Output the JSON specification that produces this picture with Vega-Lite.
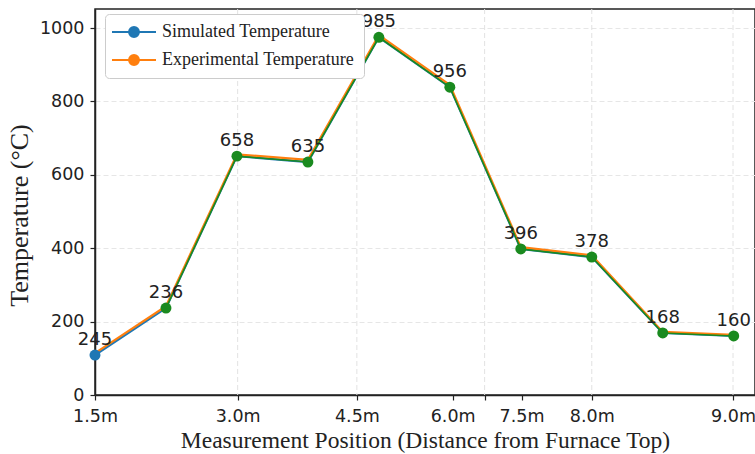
{
  "$schema": "https://vega.github.io/schema/vega-lite/v6.json",
  "width": 660,
  "height": 386,
  "autosize": {"type": "none"},
  "padding": {"left": 95, "top": 9, "right": 0, "bottom": 59},
  "background": "white",
  "config": {
    "view": {"stroke": "#222", "strokeWidth": 1.5},
    "axis": {
      "labelFont": "DejaVu Sans",
      "labelFontSize": 17.5,
      "labelColor": "#222",
      "titleFont": "Liberation Serif",
      "titleFontWeight": "normal",
      "titleColor": "#222",
      "domainColor": "#222",
      "domainWidth": 1.5,
      "tickColor": "#222",
      "tickSize": 5,
      "tickWidth": 1.2
    }
  },
  "datasets": {
    "temps": [
      {"pos": 0, "series": "Simulated Temperature", "temp": 109},
      {"pos": 1, "series": "Simulated Temperature", "temp": 237},
      {"pos": 2, "series": "Simulated Temperature", "temp": 651},
      {"pos": 3, "series": "Simulated Temperature", "temp": 635},
      {"pos": 4, "series": "Simulated Temperature", "temp": 975},
      {"pos": 5, "series": "Simulated Temperature", "temp": 839},
      {"pos": 6, "series": "Simulated Temperature", "temp": 398},
      {"pos": 7, "series": "Simulated Temperature", "temp": 376},
      {"pos": 8, "series": "Simulated Temperature", "temp": 169},
      {"pos": 9, "series": "Simulated Temperature", "temp": 161},
      {"pos": 0, "series": "Experimental Temperature", "temp": 114},
      {"pos": 1, "series": "Experimental Temperature", "temp": 242},
      {"pos": 2, "series": "Experimental Temperature", "temp": 656},
      {"pos": 3, "series": "Experimental Temperature", "temp": 641},
      {"pos": 4, "series": "Experimental Temperature", "temp": 981},
      {"pos": 5, "series": "Experimental Temperature", "temp": 845},
      {"pos": 6, "series": "Experimental Temperature", "temp": 403},
      {"pos": 7, "series": "Experimental Temperature", "temp": 381},
      {"pos": 8, "series": "Experimental Temperature", "temp": 172},
      {"pos": 9, "series": "Experimental Temperature", "temp": 164}
    ],
    "markers": [
      {"pos": 1, "temp": 237},
      {"pos": 2, "temp": 651},
      {"pos": 3, "temp": 635},
      {"pos": 4, "temp": 975},
      {"pos": 5, "temp": 839},
      {"pos": 6, "temp": 398},
      {"pos": 7, "temp": 376},
      {"pos": 8, "temp": 169},
      {"pos": 9, "temp": 161}
    ],
    "labels": [
      {"pos": 0, "temp": 109, "label": "245"},
      {"pos": 1, "temp": 237, "label": "236"},
      {"pos": 2, "temp": 651, "label": "658"},
      {"pos": 3, "temp": 635, "label": "635"},
      {"pos": 4, "temp": 975, "label": "985"},
      {"pos": 5, "temp": 839, "label": "956"},
      {"pos": 6, "temp": 398, "label": "396"},
      {"pos": 7, "temp": 376, "label": "378"},
      {"pos": 8, "temp": 169, "label": "168"},
      {"pos": 9, "temp": 161, "label": "160"}
    ],
    "grid": [
      {"gx": 2.01},
      {"gx": 3.69},
      {"gx": 5.49},
      {"gx": 7.0},
      {"gx": 8.99}
    ]
  },
  "layer": [
    {
      "data": {"name": "grid"},
      "mark": {"type": "rule", "color": "#e2e2e2", "strokeWidth": 1, "strokeDash": [5, 3]},
      "encoding": {
        "x": {"field": "gx", "type": "quantitative", "scale": {"domain": [0, 9.3], "nice": false, "zero": false}}
      }
    },
    {
      "data": {"name": "temps"},
      "mark": {"type": "line", "strokeWidth": 2.2},
      "encoding": {
        "x": {
          "field": "pos",
          "type": "quantitative",
          "scale": {"domain": [0, 9.3], "nice": false, "zero": false},
          "axis": {
            "values": [0, 2.01, 3.69, 5.04, 5.49, 6.01, 7.0, 8.99],
            "labelExpr": "datum.value == 0 ? '1.5m' : datum.value == 2.01 ? '3.0m' : datum.value == 3.69 ? '4.5m' : datum.value == 5.04 ? '6.0m' : datum.value == 6.01 ? '7.5m' : datum.value == 7 ? '8.0m' : datum.value == 8.99 ? '9.0m' : ''",
            "grid": false,
            "labelPadding": 7,
            "labelFlush": false,
            "labelOverlap": false,
            "title": "Measurement Position (Distance from Furnace Top)",
            "titleFontSize": 23.5,
            "titlePadding": 4
          }
        },
        "y": {
          "field": "temp",
          "type": "quantitative",
          "scale": {"domain": [0, 1052], "nice": false},
          "axis": {
            "values": [0, 200, 400, 600, 800, 1000],
            "format": "d",
            "grid": true,
            "gridColor": "#e6e6e6",
            "gridDash": [5, 3],
            "gridWidth": 1,
            "labelPadding": 6,
            "title": "Temperature (°C)",
            "titleFontSize": 26,
            "titlePadding": 7,
            "titleY": 206
          }
        },
        "color": {
          "field": "series",
          "type": "nominal",
          "scale": {"domain": ["Experimental Temperature", "Simulated Temperature"], "range": ["#ff7f0e", "#1f77b4"]},
          "legend": {
            "orient": "none",
            "legendX": 10,
            "legendY": 5,
            "title": null,
            "values": ["Simulated Temperature", "Experimental Temperature"],
            "symbolType": "M-2,0L6,0M1.1,0A0.9,0.9,0,1,1,2.9,0A0.9,0.9,0,1,1,1.1,0Z",
            "symbolSize": 121,
            "symbolStrokeWidth": 2,
            "labelFont": "Liberation Serif",
            "labelFontSize": 18,
            "labelColor": "#222",
            "labelLimit": 0,
            "labelOffset": 30,
            "padding": 9,
            "rowPadding": 10,
            "strokeColor": "#cccccc",
            "fillColor": "white",
            "cornerRadius": 4,
            "encode": {
              "symbols": {"update": {"fill": {"scale": "color", "field": "value"}, "opacity": {"value": 1}}}
            }
          }
        },
        "order": {"field": "series", "sort": "ascending"}
      }
    },
    {
      "data": {"name": "markers"},
      "mark": {"type": "line", "color": "#1a8a1f", "strokeWidth": 1.6},
      "encoding": {
        "x": {"field": "pos", "type": "quantitative"},
        "y": {"field": "temp", "type": "quantitative"}
      }
    },
    {
      "data": {"name": "temps"},
      "transform": [{"filter": "datum.pos == 0 && datum.series == 'Simulated Temperature'"}],
      "mark": {"type": "point", "filled": true, "size": 120, "opacity": 1, "color": "#1f77b4"},
      "encoding": {
        "x": {"field": "pos", "type": "quantitative"},
        "y": {"field": "temp", "type": "quantitative"}
      }
    },
    {
      "data": {"name": "markers"},
      "mark": {"type": "point", "filled": true, "size": 120, "opacity": 1, "color": "#1a8a1f"},
      "encoding": {
        "x": {"field": "pos", "type": "quantitative"},
        "y": {"field": "temp", "type": "quantitative"}
      }
    },
    {
      "data": {"name": "labels"},
      "mark": {"type": "text", "font": "DejaVu Sans", "fontSize": 18, "color": "#222", "dy": -15, "baseline": "middle"},
      "encoding": {
        "x": {"field": "pos", "type": "quantitative"},
        "y": {"field": "temp", "type": "quantitative"},
        "text": {"field": "label"}
      }
    }
  ]
}
